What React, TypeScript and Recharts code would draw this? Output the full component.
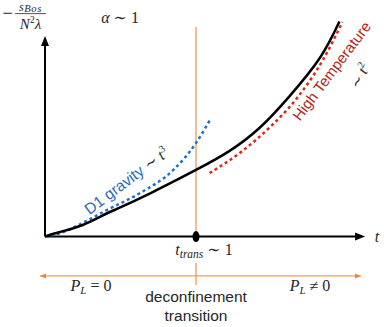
import { ComposedChart, Line, XAxis, YAxis, ReferenceLine, ReferenceDot } from 'recharts';

// exact solution (black)
const exactT = [0, 0.03, 0.1, 0.25, 0.38, 0.48, 0.7, 1.0, 1.22, 1.42, 1.62, 1.82, 1.95];
const exactV = [0, 0.07, 0.2, 0.51, 0.92, 1.23, 1.92, 2.94, 3.77, 4.79, 6.2, 7.88, 9.49];

// D1 gravity ~ t^3 (blue dotted)
const gravityT = [0, 0.1, 0.25, 0.41, 0.63, 0.85, 1.0, 1.1];
const gravityV = [0, 0.15, 0.6, 1.17, 1.92, 2.94, 4.13, 5.23];

// high temperature ~ t^2 (red dotted)
const highTT = [1.09, 1.29, 1.49, 1.67, 1.84, 1.97];
const highTV = [2.8, 3.69, 4.83, 6.12, 7.79, 9.47];

const tTrans = 1;
const xAxisEnd = 2.12;
const yAxisEnd = 8.85;
const transTop = 9.25;
const regionV = -1.74;
const regionFrom = -0.033;
const regionTo = 2.093;
const lowerTick = [-1.17, -2.14];

const rows = (ts: number[], vs: number[]) => ts.map((t, i) => ({ t, v: vs[i] }));
const exact = rows(exactT, exactV);
const gravity = rows(gravityT, gravityV);
const highT = rows(highTT, highTV);

const MATH = '"Liberation Serif", "DejaVu Serif", serif';
const SANS = '"Liberation Sans", Arial, sans-serif';
const INK = '#262626';
const ORANGE = '#f2a66c';
const ORANGE_DARK = '#e8873e';

const mark = (t: number, v: number, draw: (cx: number, cy: number) => any) => (
  <ReferenceDot x={t} y={v} r={0} ifOverflow="visible" shape={(p: any) => <g>{draw(p.cx, p.cy)}</g>} />
);

export default function App() {
  return (
    <div style={{ position: 'absolute', left: 0, top: 0 }}>
      <ComposedChart width={384} height={327} margin={{ top: 10, right: 6.8, bottom: 11.2, left: 7.25 }}>
        <XAxis type="number" dataKey="t" domain={[-0.25, 2.2]} hide allowDataOverflow />
        <YAxis type="number" domain={[-3.5, 10]} hide allowDataOverflow />

        <ReferenceLine segment={[{ x: tTrans, y: 0 }, { x: tTrans, y: transTop }]} stroke={ORANGE} strokeWidth={1.5} />
        <ReferenceLine segment={[{ x: tTrans, y: lowerTick[0] }, { x: tTrans, y: lowerTick[1] }]} stroke={ORANGE} strokeWidth={1.5} />
        <ReferenceLine segment={[{ x: regionFrom, y: regionV }, { x: regionTo, y: regionV }]} stroke={ORANGE_DARK} strokeWidth={1} />
        {mark(regionFrom, regionV, (cx, cy) => <path d={`M${cx},${cy}L${cx + 6},${cy - 2.5}L${cx + 6},${cy + 2.5}Z`} fill={ORANGE_DARK} />)}
        {mark(regionTo, regionV, (cx, cy) => <path d={`M${cx},${cy}L${cx - 6},${cy - 2.5}L${cx - 6},${cy + 2.5}Z`} fill={ORANGE_DARK} />)}

        <ReferenceLine segment={[{ x: 0, y: 0 }, { x: xAxisEnd - 0.03, y: 0 }]} stroke="#000" strokeWidth={2} />
        <ReferenceLine segment={[{ x: 0, y: 0 }, { x: 0, y: yAxisEnd - 0.2 }]} stroke="#000" strokeWidth={2} />
        {mark(xAxisEnd, 0, (cx, cy) => <path d={`M${cx},${cy}L${cx - 10},${cy - 4}L${cx - 10},${cy + 4}Z`} fill="#000" />)}
        {mark(0, yAxisEnd, (cx, cy) => <path d={`M${cx},${cy}L${cx - 4},${cy + 10}L${cx + 4},${cy + 10}Z`} fill="#000" />)}

        <Line data={gravity} dataKey="v" type="monotone" stroke="#1f6fce" strokeWidth={2.5} strokeDasharray="3 3" dot={false} isAnimationActive={false} />
        <Line data={highT} dataKey="v" type="monotone" stroke="#d42a1a" strokeWidth={2.5} strokeDasharray="3 3" dot={false} isAnimationActive={false} />
        <Line data={exact} dataKey="v" type="natural" stroke="#000" strokeWidth={2.5} dot={false} isAnimationActive={false} />

        {mark(tTrans, 0, (cx, cy) => <ellipse cx={cx} cy={cy} rx={3.5} ry={5.5} fill="#000" />)}

        {/* y label: - s_Bos / (N^2 lambda) */}
        {mark(-0.096, 9.84, (cx, cy) => (
          <g fontFamily={MATH} fill={INK}>
            <text x={cx - 23} y={cy + 5.5} fontSize={18} textAnchor="middle">−</text>
            <text x={cx} y={cy - 3} fontSize={12} textAnchor="middle" fontStyle="italic" letterSpacing={0.6}>
              s<tspan fontSize={10.5} dy={1.5}>Bos</tspan>
            </text>
            <line x1={cx - 15.5} x2={cx + 15.5} y1={cy} y2={cy} stroke={INK} strokeWidth={0.8} />
            <text x={cx} y={cy + 15} fontSize={15} textAnchor="middle" fontStyle="italic">
              N<tspan fontSize={9.5} dy={-6} fontStyle="normal">2</tspan><tspan dy={6}>λ</tspan>
            </text>
          </g>
        ))}
        {mark(0.497, 9.65, (cx, cy) => (
          <text x={cx} y={cy + 5} fontFamily={MATH} fontSize={16} fill={INK} textAnchor="middle">
            <tspan fontStyle="italic">α</tspan> ∼ 1
          </text>
        ))}
        {mark(2.199, -0.02, (cx, cy) => (
          <text x={cx} y={cy + 5} fontFamily={MATH} fontSize={16} fontStyle="italic" fill={INK} textAnchor="middle">t</text>
        ))}
        {mark(1.053, -0.64, (cx, cy) => (
          <text x={cx} y={cy + 4} fontFamily={MATH} fontSize={16} fill={INK} textAnchor="middle">
            <tspan fontStyle="italic">t</tspan>
            <tspan fontStyle="italic" fontSize={11.5} dy={3}>trans</tspan>
            <tspan dy={-3}> ∼ 1</tspan>
          </text>
        ))}
        {mark(0.305, -2.19, (cx, cy) => (
          <text x={cx} y={cy + 5} fontFamily={MATH} fontSize={16} fill={INK} textAnchor="middle">
            <tspan fontStyle="italic">P</tspan>
            <tspan fontStyle="italic" fontSize={11} dy={3}>L</tspan>
            <tspan dy={-3}> = 0</tspan>
          </text>
        ))}
        {mark(1.755, -2.19, (cx, cy) => (
          <text x={cx} y={cy + 5} fontFamily={MATH} fontSize={16} fill={INK} textAnchor="middle">
            <tspan fontStyle="italic">P</tspan>
            <tspan fontStyle="italic" fontSize={11} dy={3}>L</tspan>
            <tspan dy={-3}> ≠ 0</tspan>
          </text>
        ))}
        {mark(1.0, -2.67, (cx, cy) => (
          <text x={cx} y={cy + 5} fontFamily={SANS} fontSize={15.5} fill={INK} textAnchor="middle">deconfinement</text>
        ))}
        {mark(1.0, -3.51, (cx, cy) => (
          <text x={cx} y={cy + 5} fontFamily={SANS} fontSize={15.5} fill={INK} textAnchor="middle">transition</text>
        ))}
        {mark(0.54, 2.45, (cx, cy) => (
          <text x={cx} y={cy + 5} fontSize={15.5} textAnchor="middle" transform={`rotate(-37 ${cx} ${cy})`}>
            <tspan fontFamily={SANS} fill="#2b6cb4">D1 gravity </tspan>
            <tspan fontFamily={MATH} fill={INK}>∼ </tspan>
            <tspan fontFamily={MATH} fill={INK} fontStyle="italic">t</tspan>
            <tspan fontFamily={MATH} fill={INK} fontSize={10} dy={-6}>3</tspan>
          </text>
        ))}
        {mark(1.9, 7.3, (cx, cy) => (
          <text x={cx} y={cy + 5} fontFamily={SANS} fontSize={15} fill="#b02a20" textAnchor="middle" transform={`rotate(-53 ${cx} ${cy})`}>
            High Temperature
          </text>
        ))}
        {mark(2.086, 7.09, (cx, cy) => (
          <text x={cx} y={cy + 5} fontFamily={MATH} fontSize={15} fill={INK} textAnchor="middle" transform={`rotate(-62 ${cx} ${cy})`}>
            ∼ <tspan fontStyle="italic">t</tspan><tspan fontSize={10} dy={-6}>2</tspan>
          </text>
        ))}
      </ComposedChart>
    </div>
  );
}
